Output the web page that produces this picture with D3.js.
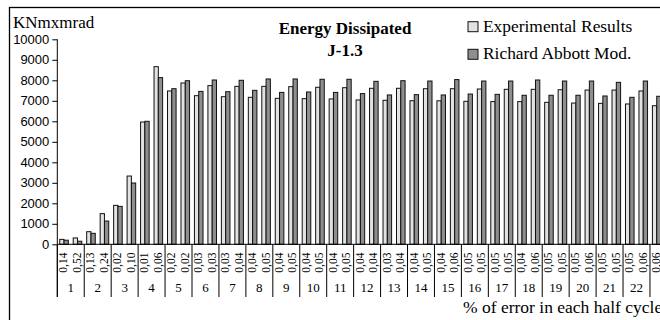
<!DOCTYPE html>
<html><head><meta charset="utf-8">
<script src="https://cdn.jsdelivr.net/npm/d3@7/dist/d3.min.js"></script>
<style>body{margin:0;background:#fff;} svg{display:block;}</style>
</head><body>
<svg id="chart" width="660" height="320"></svg>
<script>
const errorLabels = ["0,14","0,52","0,13","0,24","0,02","0,10","0,01","0,06","0,02","0,02","0,03","0,03","0,03","0,04","0,04","0,05","0,04","0,05","0,04","0,05","0,04","0,05","0,04","0,04","0,03","0,04","0,04","0,05","0,04","0,06","0,05","0,05","0,05","0,05","0,04","0,06","0,05","0,05","0,05","0,06","0,05","0,05","0,05","0,06","0,06"];
const groupLabels = ["1","2","3","4","5","6","7","8","9","10","11","12","13","14","15","16","17","18","19","20","21","22"];
const experimental = [240,310,615,1495,1900,3330,5965,8665,7480,7870,7250,7740,7200,7705,7170,7705,7120,7690,7105,7660,7090,7640,7040,7610,7025,7610,7005,7590,7000,7590,6975,7575,6960,7560,6960,7560,6925,7540,6890,7525,6875,7525,6845,7480,6760];
const model = [200,150,535,1135,1850,2990,6000,8130,7590,7980,7460,8015,7445,8000,7510,8065,7410,8065,7430,8050,7410,8050,7350,7950,7285,7980,7300,7965,7285,8035,7330,7965,7315,7965,7270,8015,7270,7965,7270,7965,7235,7900,7170,7965,7220];
const yTicks = [0,1000,2000,3000,4000,5000,6000,7000,8000,9000,10000];
const seriesNames = ["Experimental Results","Richard Abbott Mod."];
const seriesColors = ["#e2e2e2","#8e8e8e"];

const svg = d3.select("#chart");
const serif = "'Liberation Serif','Times New Roman',serif";
const sans = "'Liberation Sans',Arial,sans-serif";

svg.append("rect").attr("width",660).attr("height",320).attr("fill","#fff");
svg.append("rect").attr("x",9.5).attr("y",7.5).attr("width",720).attr("height",400)
  .attr("fill","none").attr("stroke","#000").attr("stroke-width",1.3);

const n = experimental.length;
const x0 = 57.3, step = 13.47;
const x = d3.scaleBand().domain(d3.range(n)).range([x0, x0 + n*step]).padding(0);
const xs = d3.scaleBand().domain([0,1]).range([0, x.bandwidth()]).paddingInner(0).paddingOuter(0.57);
const y = d3.scaleLinear().domain([0,10000]).range([244.3, 39.3]);

// bars
const data = d3.range(n).map(i => ({i, vals:[experimental[i], model[i]]}));
const g = svg.append("g");
data.forEach(d => {
  d.vals.forEach((v,s) => {
    g.append("rect")
      .attr("x", x(d.i) + xs(s))
      .attr("y", y(v))
      .attr("width", xs.bandwidth())
      .attr("height", y(0) - y(v))
      .attr("fill", seriesColors[s])
      .attr("stroke", "#111").attr("stroke-width", 1);
  });
});

// y axis
const yAxis = d3.axisLeft(y).tickValues(yTicks).tickSize(5).tickPadding(3).tickFormat(d3.format("d"));
const ya = svg.append("g").attr("transform",`translate(${x0},0)`).call(yAxis);
ya.select(".domain").remove();
ya.selectAll(".tick line").attr("stroke","#000");
ya.selectAll("text").attr("font-family",sans).attr("font-size","13px").attr("fill","#000");
svg.append("line").attr("x1",x0).attr("x2",x0).attr("y1",y(10000)).attr("y2",297).attr("stroke","#000").attr("stroke-width",1);

// x axis line
svg.append("line").attr("x1",x0).attr("x2",x0+n*step).attr("y1",y(0)).attr("y2",y(0)).attr("stroke","#000").attr("stroke-width",1);

// category labels (rotated)
errorLabels.forEach((t,i) => {
  svg.append("text")
    .attr("transform",`translate(${x(i)+x.bandwidth()/2},252.5) rotate(-90)`)
    .attr("text-anchor","end").attr("dy","0.3em")
    .attr("font-family",serif).attr("font-size","11.5px").attr("fill","#000")
    .text(t);
});

// group boundaries and labels
const nGroups = Math.ceil(n/2);
d3.range(nGroups).forEach(gi => {
  const gx = x(gi*2);
  svg.append("line").attr("x1",gx).attr("x2",gx).attr("y1",y(0)).attr("y2",297).attr("stroke","#000").attr("stroke-width",1);
  if (gi < groupLabels.length) {
    svg.append("text").attr("x", gx + x.step()).attr("y",292)
      .attr("text-anchor","middle").attr("font-family",serif).attr("font-size","13px")
      .text(groupLabels[gi]);
  }
});

// y-axis title
svg.append("text").attr("x",13).attr("y",28).attr("font-family",serif).attr("font-size","17px").text("KNmxmrad");

// title
svg.append("text").attr("x",345).attr("y",34).attr("text-anchor","middle").attr("font-family",serif)
  .attr("font-weight","bold").attr("font-size","17px").text("Energy Dissipated");
svg.append("text").attr("x",345).attr("y",56).attr("text-anchor","middle").attr("font-family",serif)
  .attr("font-weight","bold").attr("font-size","17px").text("J-1.3");

// legend
seriesNames.forEach((name,s) => {
  const ly = 21.7 + s*27.6;
  svg.append("rect").attr("x",468).attr("y",ly).attr("width",10).attr("height",10)
    .attr("fill",seriesColors[s]).attr("stroke","#111").attr("stroke-width",1);
  svg.append("text").attr("x",483).attr("y",ly+10).attr("font-family",serif).attr("font-size","17.4px").text(name);
});

// x-axis title
svg.append("text").attr("x",463).attr("y",313).attr("font-family",serif).attr("font-size","17.5px").text("% of error in each half cycle");
</script>
</body></html>
